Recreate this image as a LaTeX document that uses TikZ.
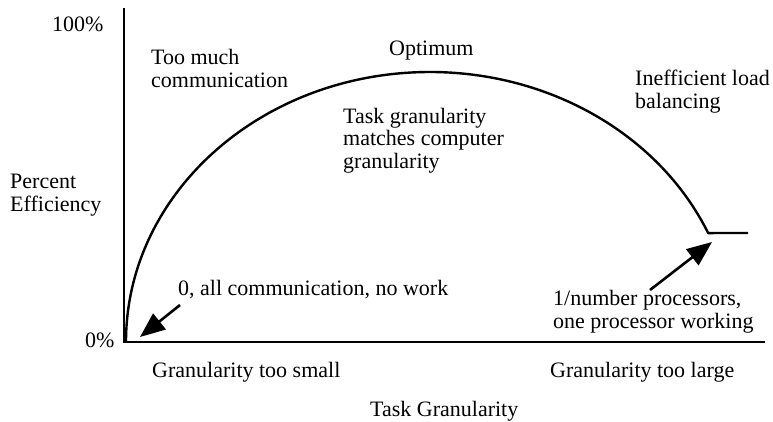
\documentclass[tikz,border=0pt]{standalone}
\usepackage{fontspec}
\setmainfont{Liberation Serif}
\usetikzlibrary{arrows.meta}
\begin{document}
\begin{tikzpicture}[x=1pt,y=-1pt,
  % multi-line labels are placed by the baseline of their last line
  lbl/.style={anchor=base west,inner sep=0pt,font=\fontsize{22}{22.3}\selectfont,align=left},
  axis/.style={line width=2.6pt},
  curve/.style={line width=2.4pt,line join=round},
  pointer/.style={line width=2.6pt,-{Triangle[length=25pt,width=20pt]}}]
\useasboundingbox (0,0) rectangle (773,421);

% axes
\coordinate (origin) at (124,342);
\coordinate (ytop) at (124,8);
\coordinate (xend) at (765,342);
\draw[axis] (ytop) -- (origin |- 0,343.3);
\draw[line width=2.2pt] (origin) -- (xend);

% efficiency curve: elliptic arc, then a flat tail
\coordinate (curvestart) at (126,342);
\coordinate (tailend) at (748,233);
\draw[curve] (curvestart) arc[start angle=180,end angle=336.2,x radius=304,y radius=270]
  -- (tailend);

% axis labels
\node[lbl] (top) at (52,31) {100\%};
\node[lbl] (bottom) at (85,347) {0\%};
\node[lbl] (yaxis) at (10,211) {Percent\\Efficiency};
\node[lbl] (small) at (152,377) {Granularity too small};
\node[lbl] (large) at (550,377) {Granularity too large};
\node[lbl] (xaxis) at (370,416) {Task Granularity};

% region labels
\node[lbl] (comm) at (151,87) {Too much\\communication};
\node[lbl] (opt) at (389,55) {Optimum};
\node[lbl] (match) at (343,168) {Task granularity\\matches computer\\granularity};
\node[lbl] (lb) at (635,108) {Inefficient load\\balancing};
\node[lbl] (zero) at (178,295) {0, all communication, no work};
\node[lbl] (one) at (553,328) {1/number processors,\\one processor working};

% pointers
\coordinate (zerotail) at (180,305);
\coordinate (zerotip) at (140,337);
\coordinate (onetail) at (650,290);
\coordinate (onetip) at (712,242);
\draw[pointer] (zerotail) -- (zerotip);
\draw[pointer] (onetail) -- (onetip);
\end{tikzpicture}
\end{document}
